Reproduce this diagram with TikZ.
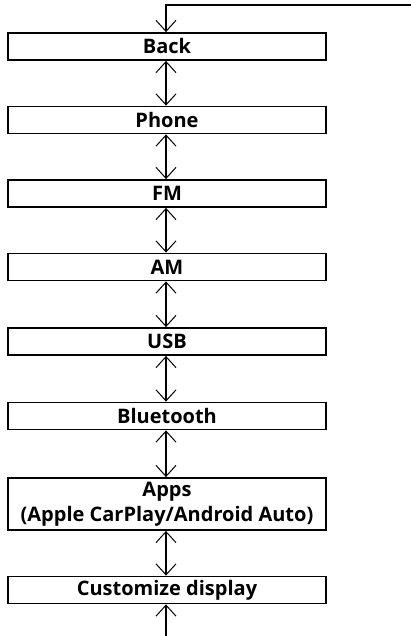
\documentclass[tikz,border=0pt]{standalone}
\usepackage{fontspec}
\setmainfont{Open Sans}
\usetikzlibrary{arrows.meta}
\tikzset{
  menubox/.style={draw, line width=1.8pt, minimum width=318pt, minimum height=27pt, inner sep=0pt, font=\fontsize{20}{25.5}\selectfont\bfseries, align=center},
  link/.style={line width=1.2pt, {Straight Barb[length=11pt,width=20pt,line width=1pt]}-{Straight Barb[length=11pt,width=20pt,line width=1pt]}},
  onelink/.style={line width=1.2pt, -{Straight Barb[length=11pt,width=20pt,line width=1pt]}}
}
\begin{document}
\begin{tikzpicture}[x=1pt,y=-1pt]
\useasboundingbox (0,0) rectangle (411,636);
\node[menubox] (back) at (167,46.5) {Back};
\node[menubox] (phone) at (167,120) {Phone};
\node[menubox] (fm) at (167,193.5) {FM};
\node[menubox] (am) at (167,267) {AM};
\node[menubox] (usb) at (167,341.5) {USB};
\node[menubox] (bt) at (167,416) {Bluetooth};
\node[menubox, minimum height=52pt] (apps) at (167,504) {Apps\\(Apple CarPlay/Android Auto)};
\node[menubox] (cust) at (167,590) {Customize display};
\coordinate (tr) at (411,5);
\coordinate (bot) at (166,636);
\draw[line width=1.8pt] (tr) -- (166,5) -- (166,20);
\draw[onelink] (166,19) -- (back.north -| 166,0);
\draw[link] (back.south -| 166,0) -- (phone.north -| 166,0);
\draw[link] (phone.south -| 166,0) -- (fm.north -| 166,0);
\draw[link] (fm.south -| 166,0) -- (am.north -| 166,0);
\draw[link] (am.south -| 166,0) -- (usb.north -| 166,0);
\draw[link] (usb.south -| 166,0) -- (bt.north -| 166,0);
\draw[link] (bt.south -| 166,0) -- (apps.north -| 166,0);
\draw[link] (apps.south -| 166,0) -- (cust.north -| 166,0);
\draw[onelink] (bot) -- (cust.south -| 166,0);
\end{tikzpicture}
\end{document}
